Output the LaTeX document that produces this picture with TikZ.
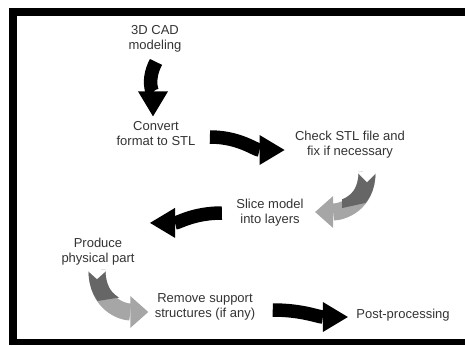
\documentclass[tikz,border=0pt]{standalone}
\usepackage{fontspec}
\setmainfont{Liberation Sans}
\usetikzlibrary{arrows.meta}
\begin{document}
\begin{tikzpicture}[x=1pt,y=1pt,
stage/.style={align=center,text=black!80,font=\fontsize{13}{15}\selectfont},
blackwave/.style={line width=13.5pt,-{Triangle[length=25pt,width=30pt,line width=0pt]}},
greyband/.style={line width=17pt,draw=black!35,-{Triangle[length=18pt,width=32pt,line width=0pt]}},
darkband/.style={line width=17pt,draw=black!60},
notch/.style={fill=white}]
\useasboundingbox (0,0) rectangle (465,-345);
\fill (9,-8) rectangle (465,-16);
\fill (9,-8) rectangle (17,-345);
\fill (9,-339) rectangle (465,-345);
\node[stage] (cad) at (155,-39) {3D CAD\\modeling};
\node[stage] (convert) at (156,-134) {Convert\\format to STL};
\node[stage] (check) at (350,-145) {Check STL file and\\fix if necessary};
\node[stage] (slice) at (270,-213) {Slice model\\into layers};
\node[stage] (produce) at (98,-252) {Produce\\physical part};
\node[stage] (remove) at (205,-307) {Remove support\\structures (if any)};
\node[stage] (post) at (403,-315) {Post-processing};
\coordinate (t3) at ([shift={(17pt,-10pt)}]check.south);
\coordinate (t5) at ([shift={(-1pt,-1pt)}]produce.south);
\draw[blackwave] ([shift={(1pt,-6pt)}]cad.south) to[out=-118,in=90] ([shift={(-3pt,2pt)}]convert.north);
\draw[blackwave] ([shift={(11pt,-3pt)}]convert.east) to[out=0,in=180] ([shift={(-7pt,-5pt)}]check.west);
\draw[greyband] (t3) to[out=-90,in=0,out looseness=1.3] ([shift={(8pt,1pt)}]slice.east);
\begin{scope}
\clip ([shift={(-25pt,5pt)}]t3) -- ([shift={(25pt,5pt)}]t3) -- ([shift={(25pt,-25pt)}]t3) -- ([shift={(-25pt,-36pt)}]t3) -- cycle;
\draw[darkband] (t3) to[out=-90,in=0,out looseness=1.3] ([shift={(8pt,1pt)}]slice.east);
\end{scope}
\fill[notch] ([xshift=-10pt]t3) -- ([xshift=10pt]t3) -- ([yshift=-10pt]t3) -- cycle;
\draw[blackwave] ([xshift=-11pt]slice.west) to[out=180,in=0] ([shift={(12pt,12pt)}]produce.north east);
\draw[greyband] (t5) to[out=-90,in=180,out looseness=1.3] ([shift={(-3pt,-5pt)}]remove.west);
\begin{scope}
\clip ([shift={(-25pt,5pt)}]t5) -- ([shift={(25pt,5pt)}]t5) -- ([shift={(25pt,-27pt)}]t5) -- ([shift={(-25pt,-35pt)}]t5) -- cycle;
\draw[darkband] (t5) to[out=-90,in=180,out looseness=1.3] ([shift={(-3pt,-5pt)}]remove.west);
\end{scope}
\fill[notch] ([xshift=-10pt]t5) -- ([xshift=10pt]t5) -- ([yshift=-9pt]t5) -- cycle;
\draw[blackwave] ([shift={(14pt,-3pt)}]remove.east) to[out=0,in=180] ([shift={(-5pt,-2pt)}]post.west);
\end{tikzpicture}
\end{document}
